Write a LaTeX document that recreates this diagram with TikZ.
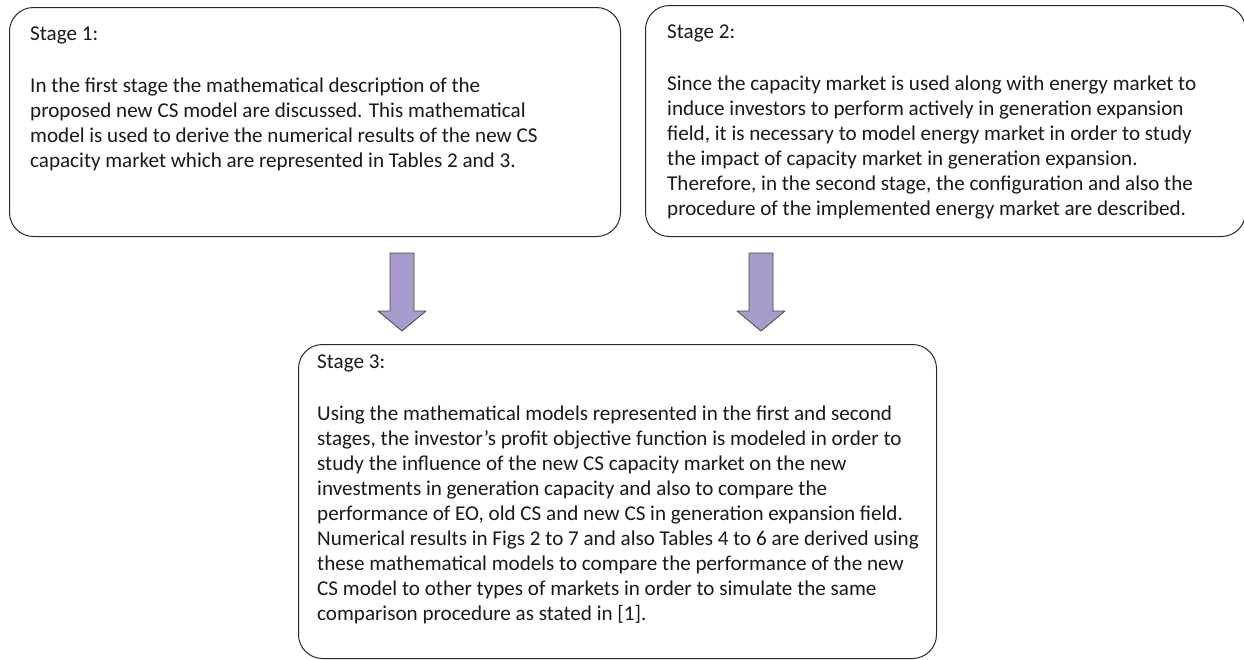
\documentclass[tikz,border=0pt]{standalone}
\usepackage{fontspec}
\setmainfont{Carlito}
\usetikzlibrary{positioning}
\definecolor{boxline}{RGB}{40,40,40}
\definecolor{arrowfill}{RGB}{170,155,205}
\definecolor{arrowline}{RGB}{70,70,70}
\definecolor{txt}{RGB}{25,25,25}
\begin{document}
\begin{tikzpicture}[x=1pt,y=-1pt,line join=round,font=\fontsize{21.1}{25}\selectfont]
	\tikzset{stagebox/.style={draw=boxline, line width=1pt, rounded corners=24pt, anchor=north west, inner sep=0pt},
		stagetitle/.style={anchor=north west, inner sep=0pt, text=txt},
		stagetext/.style={anchor=north west, inner sep=0pt, align=left, text=txt},
		blockarrow/.style={draw=arrowline, fill=arrowfill, line width=0.8pt}}
	\useasboundingbox (0,0) rectangle (1244,659);
	% the three boxes
	\node[stagebox, minimum width=611pt, minimum height=229pt] (box1) at (9,7) {};
	\node[stagebox, minimum width=600pt, minimum height=231pt] (box2) at (645,5) {};
	\node[stagebox, minimum width=638pt, minimum height=314pt] (box3) at (298,344) {};
	% texts
	\node[stagetitle] (t1) at (30,27) {Stage 1:};
	\node[stagetext, below=33pt of t1.south west, anchor=north west] (b1) {In the first stage the mathematical description of the\\
		proposed new CS model are discussed. This mathematical\\
		model is used to derive the numerical results of the new CS\\
		capacity market which are represented in Tables 2 and 3.};
	\node[stagetitle] (t2) at (667,25) {Stage 2:};
	\node[stagetext, below=33pt of t2.south west, anchor=north west] (b2) {Since the capacity market is used along with energy market to\\
		induce investors to perform actively in generation expansion\\
		field, it is necessary to model energy market in order to study\\
		the impact of capacity market in generation expansion.\\
		Therefore, in the second stage, the configuration and also the\\
		procedure of the implemented energy market are described.};
	\node[stagetitle] (t3) at (317,355) {Stage 3:};
	\node[stagetext, below=33pt of t3.south west, anchor=north west] (b3) {Using the mathematical models represented in the first and second\\
		stages, the investor's profit objective function is modeled in order to\\
		study the influence of the new CS capacity market on the new\\
		investments in generation capacity and also to compare the\\
		performance of EO, old CS and new CS in generation expansion field.\\
		Numerical results in Figs 2 to 7 and also Tables 4 to 6 are derived using\\
		these mathematical models to compare the performance of the new\\
		CS model to other types of markets in order to simulate the same\\
		comparison procedure as stated in [1].};
	% arrows
	\foreach \x/\n in {402/a1,761/a2}{
		\coordinate (\n) at (\x,253);
		\draw[blockarrow] ([xshift=-12pt]\n) -- ++(0,58) -- ++(-12,0) -- ++(24,20) -- ++(24,-20) -- ++(-12,0) -- ++(0,-58) -- cycle;
	}
\end{tikzpicture}
\end{document}
